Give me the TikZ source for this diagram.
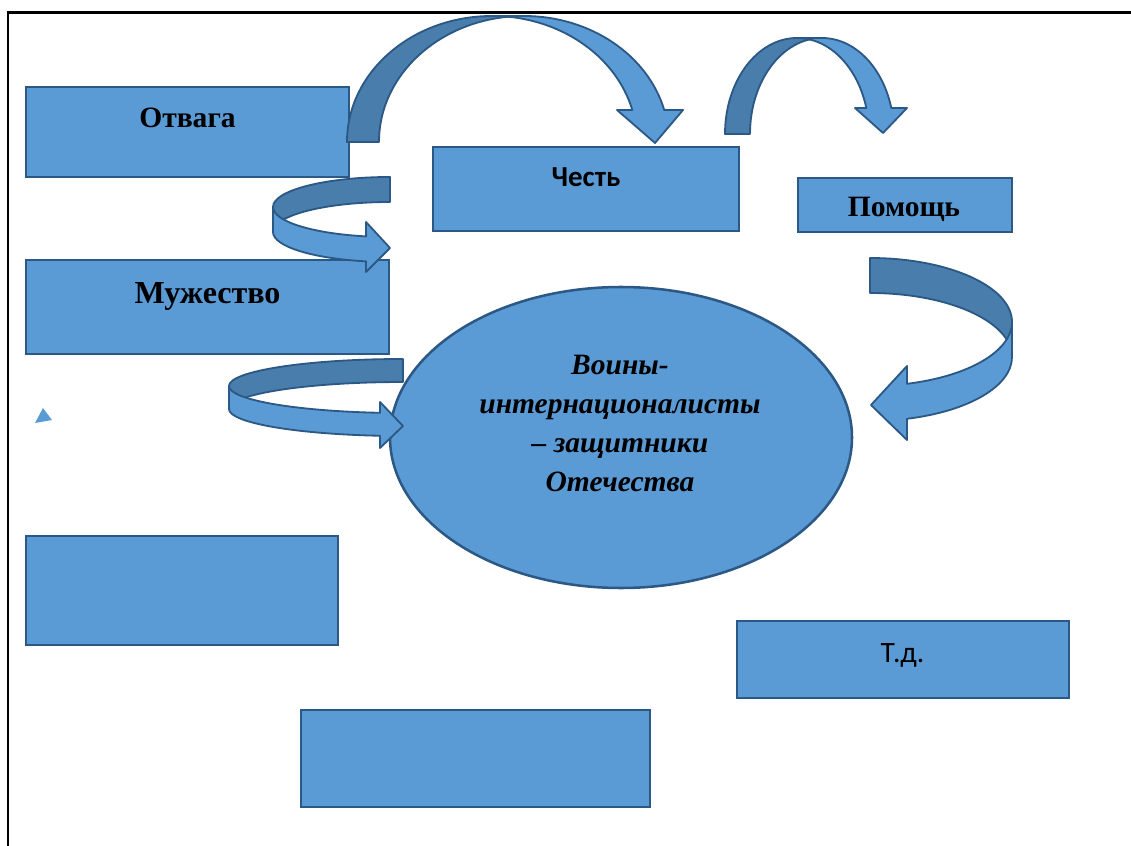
\documentclass[tikz,border=0pt]{standalone}
\usepackage{fontspec}
\setmainfont{Liberation Serif}
\newfontfamily\calibri{Carlito}
\definecolor{boxblue}{HTML}{5B9BD5}
\definecolor{shadeblue}{HTML}{497DAC}
\definecolor{edgeblue}{HTML}{2B5884}

\begin{document}
\begin{tikzpicture}[x=0.025cm,y=-0.025cm,
	box/.style={fill=boxblue,draw=edgeblue,line width=1.8pt},
	band/.style={fill=boxblue,draw=edgeblue,line width=1.3pt,line join=round},
	back/.style={fill=shadeblue,draw=edgeblue,line width=1.3pt,line join=round},
	word/.style={inner sep=0pt,anchor=base}]

	\useasboundingbox (0,0) rectangle (1131,846);

	% frame
	\draw[line width=2pt] (8,846) -- (8,12.5) -- (1131,12.5);

	% boxes
	\draw[box] (26,87) rectangle (349,177);
	\draw[box] (26,260) rectangle (389,354);
	\draw[box] (433,147) rectangle (739,231);
	\draw[box] (798,178) rectangle (1012,232);
	\draw[box] (26,536) rectangle (338,645);
	\draw[box] (301,710) rectangle (650,807);
	\draw[box] (737,621) rectangle (1069,698);
	\draw[box] (621,437.5) ellipse [x radius=231, y radius=150.5];

	\fill[boxblue] (35,423) -- (43,408) -- (52,420) -- cycle;

	% curved arrows
	\draw[back] (347,142) arc[start angle=180,end angle=270,x radius=145,y radius=126] -- (524,16) arc[start angle=270,end angle=180,x radius=145,y radius=126] -- cycle;
	\draw[band] (492,16) -- (524,16) arc[start angle=270,end angle=345.3,x radius=145,y radius=126] -- (683,110) -- (655,143) -- (617,110) -- (632.3,110) arc[start angle=345.3,end angle=270,x radius=145,y radius=126] -- cycle;

	\draw[back] (725,134) arc[start angle=180,end angle=270,x radius=72,y radius=96] -- (822,38) arc[start angle=270,end angle=180,x radius=72,y radius=96] -- cycle;
	\draw[band] (797,38) -- (822,38) arc[start angle=270,end angle=344.3,x radius=72,y radius=96] -- (907,108) -- (883,133) -- (855,108) -- (866.3,108) arc[start angle=344.3,end angle=270,x radius=72,y radius=96] -- cycle;

	\draw[back] (390,177) arc[start angle=270,end angle=180,x radius=117,y radius=30] -- (273,232) arc[start angle=180,end angle=270,x radius=117,y radius=30] -- cycle;
	\draw[band] (273,207) -- (273,232) arc[start angle=180,end angle=101.8,x radius=117,y radius=30] -- (366,272) -- (390,248) -- (366,222) -- (366.1,236.4) arc[start angle=101.8,end angle=180,x radius=117,y radius=30] -- cycle;

	\draw[back] (403,359) arc[start angle=270,end angle=180,x radius=174,y radius=27] -- (229,409) arc[start angle=180,end angle=270,x radius=174,y radius=27] -- cycle;
	\draw[band] (229,386) -- (229,409) arc[start angle=180,end angle=97.6,x radius=174,y radius=27] -- (380,448) -- (403,426) -- (380,402) -- (380,412.8) arc[start angle=97.6,end angle=180,x radius=174,y radius=27] -- cycle;

	\draw[back] (870,258) arc[start angle=270,end angle=360,x radius=142,y radius=64] -- (1012,357) arc[start angle=360,end angle=270,x radius=142,y radius=64] -- cycle;
	\draw[band] (1012,322) -- (1012,357) arc[start angle=0,end angle=74.9,x radius=142,y radius=64] -- (907,440) -- (871,405) -- (907,366) -- (907,383.8) arc[start angle=74.9,end angle=0,x radius=142,y radius=64] -- cycle;

	% texts
	\node[word,font=\fontsize{21pt}{25pt}\selectfont\bfseries] (otvaga) at (187.5,128) {Отвага};
	\node[word,font=\fontsize{22.8pt}{27pt}\selectfont\bfseries] (muzhestvo) at (207.5,304) {Мужество};
	\node[word,font=\calibri\fontsize{20.6pt}{25pt}\selectfont\bfseries] (chest) at (586,187) {Честь};
	\node[word,font=\fontsize{21pt}{25pt}\selectfont\bfseries] (pomosh) at (904,217) {Помощь};
	\node[word,font=\calibri\fontsize{21pt}{25pt}\selectfont] (itd) at (902.5,662) {Т.д.};
	\node[word,align=center,font=\fontsize{21pt}{27.5pt}\selectfont\bfseries\itshape] (voiny) at (620,491) {Воины-\\интернационалисты\\– защитники\\Отечества};

\end{tikzpicture}
\end{document}
